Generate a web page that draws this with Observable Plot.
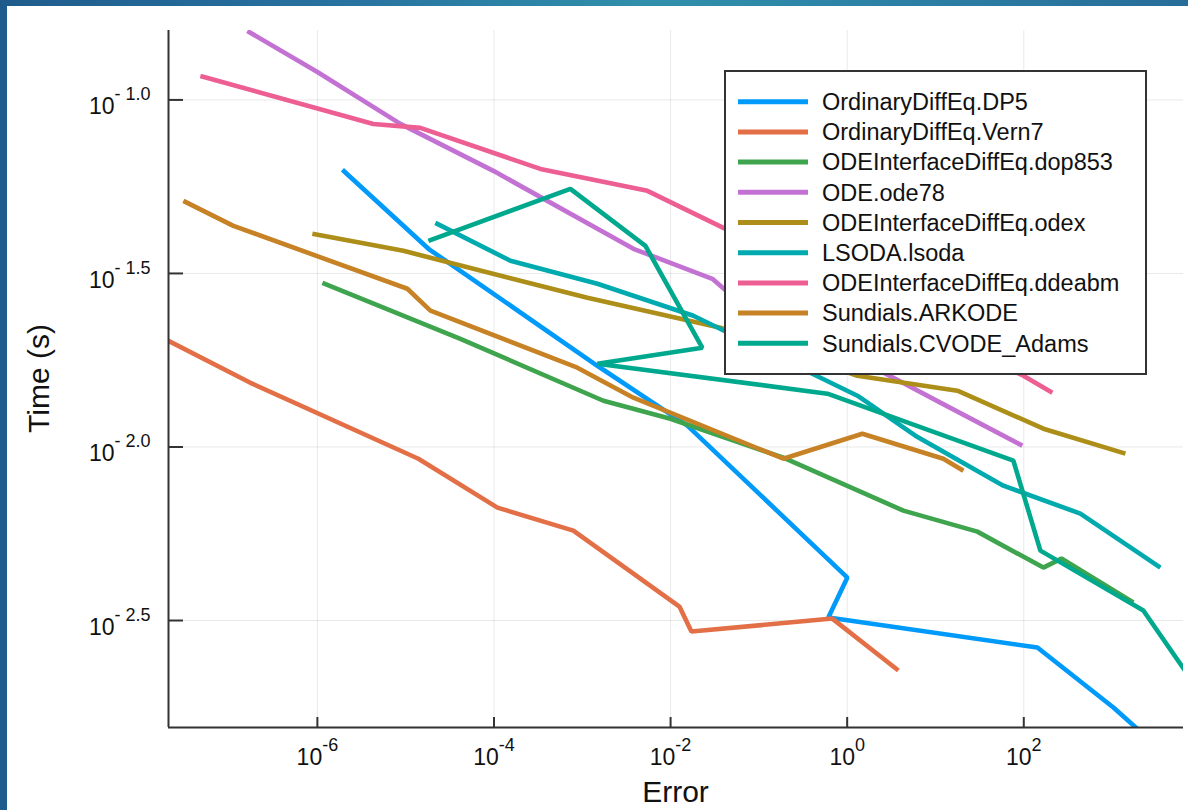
<!DOCTYPE html>
<html><head><meta charset="utf-8">
<script src="https://cdn.jsdelivr.net/npm/d3@7"></script>
<script src="https://cdn.jsdelivr.net/npm/@observablehq/plot@0.6"></script>
<style>
html,body{margin:0;padding:0;}
body{width:1188px;height:810px;position:relative;overflow:hidden;
  background:linear-gradient(90deg,#1f5c8c 0%,#2873a0 30%,#3090ab 55%,#2c80a5 75%,#276d99 100%);
  font-family:"Liberation Sans",Arial,sans-serif;}
#paper{position:absolute;left:7px;top:6px;right:0;bottom:0;background:#fff;}
#chart{position:absolute;left:0;top:0;}
#legend{position:absolute;left:0;top:0;pointer-events:none;}
</style></head><body>
<div id="paper"></div>
<div id="chart"></div>
<svg id="legend" width="1188" height="810"></svg>
<script>
// ---- data ----
const seriesNames = ["OrdinaryDiffEq.DP5","OrdinaryDiffEq.Vern7","ODEInterfaceDiffEq.dop853","ODE.ode78","ODEInterfaceDiffEq.odex","LSODA.lsoda","ODEInterfaceDiffEq.ddeabm","Sundials.ARKODE","Sundials.CVODE_Adams"];
const seriesColors = ["#009AFA","#E36F47","#3EA44E","#C371D2","#AC8E18","#00AAAE","#ED5E93","#C68225","#00A98D"];

const dp5Error = [1.92e-6, 1.81e-5, 1.48e-3, 1.55e-2, 1.005, 0.612, 142.6, 1035, 2716];
const dp5Time  = [0.0629, 0.03724, 0.01714, 0.01152, 4.205e-3, 3.225e-3, 2.643e-3, 1.775e-3, 1.427e-3];

const vern7Error = [1.95e-8, 1.742e-7, 1.393e-5, 1.094e-4, 7.925e-4, 1.259e-2, 1.722e-2, 0.679, 3.80];
const vern7Time  = [0.02037, 0.01531, 9.25e-3, 6.687e-3, 5.741e-3, 3.47e-3, 2.94e-3, 3.203e-3, 2.269e-3];

const dop853Error = [1.14e-6, 4.164e-5, 1.734e-3, 9.95e-3, 0.1892, 4.325, 29.8, 166.7, 266.7, 1742];
const dop853Time  = [0.02972, 0.0205, 0.01359, 0.01206, 9.315e-3, 6.556e-3, 5.703e-3, 4.493e-3, 4.769e-3, 3.562e-3];

const ode78Error = [1.61e-7, 1.0e-6, 8.71e-6, 9.84e-5, 3.793e-3, 0.02972, 0.04519, 3.334, 11.35, 96.4];
const ode78Time  = [0.158, 0.1204, 0.08528, 0.06246, 0.03724, 0.03052, 0.02782, 0.01583, 0.01342, 0.01009];

const odexError = [8.77e-7, 9.42e-6, 1.143e-3, 0.03664, 1.306, 17.7, 166.7, 1416];
const odexTime  = [0.04113, 0.03674, 0.0269, 0.02206, 0.01604, 0.01453, 0.01129, 9.566e-3];

const lsodaError = [2.168e-5, 1.535e-4, 1.483e-3, 0.01811, 1.306, 5.916, 58.7, 437.5, 3524];
const lsodaTime  = [0.04424, 0.0344, 0.02953, 0.02388, 0.01405, 0.01078, 7.737e-3, 6.427e-3, 4.493e-3];

const ddeabmError = [4.73e-8, 4.305e-6, 1.466e-5, 3.35e-4, 5.458e-3, 0.04178, 98.9, 210.9];
const ddeabmTime  = [0.1172, 0.08528, 0.08306, 0.06327, 0.0547, 0.04252, 0.01604, 0.01433];

const arkodeError = [3.034e-8, 1.119e-7, 1.045e-5, 1.905e-5, 8.79e-4, 3.793e-3, 0.1892, 1.486, 12.27, 20.7];
const arkodeTime  = [0.05119, 0.04337, 0.02857, 0.0247, 0.01692, 0.01387, 9.25e-3, 0.01092, 9.25e-3, 8.546e-3];

const cvodeError = [1.807e-5, 7.328e-4, 5.188e-3, 0.02291, 1.483e-3, 0.597, 76.2, 154.2, 2259, 7311];
const cvodeTime  = [0.03926, 0.05541, 0.03798, 0.01931, 0.01738, 0.01424, 9.134e-3, 5.028e-3, 3.379e-3, 2.195e-3];

const xDomain = [2.06e-8, 6440];
const yDomain = [1.555e-3, 0.1585];
const xTicks = [1e-6, 1e-4, 1e-2, 1, 1e2];
const xTickExp = ["-6", "-4", "-2", "0", "2"];
const yTicks = [0.1, 0.0316228, 0.01, 0.00316228];
const yTickExp = ["-1.0", "-1.5", "-2.0", "-2.5"];
const xTitle = "Error";
const yTitle = "Time (s)";

// ---- table ----
const seriesErrors = [dp5Error, vern7Error, dop853Error, ode78Error, odexError, lsodaError, ddeabmError, arkodeError, cvodeError];
const seriesTimes  = [dp5Time, vern7Time, dop853Time, ode78Time, odexTime, lsodaTime, ddeabmTime, arkodeTime, cvodeTime];
const rows = [];
seriesNames.forEach((name, s) => {
  seriesErrors[s].forEach((e, i) => rows.push({series: name, error: e, time: seriesTimes[s][i]}));
});

const FONT = "Liberation Sans, Arial, Helvetica, sans-serif";
const AXC = "#333";

const chart = Plot.plot({
  width: 1188, height: 810,
  marginLeft: 168, marginRight: 5, marginTop: 30, marginBottom: 83,
  style: {background: "transparent", fontFamily: FONT, overflow: "visible", color: "#111"},
  x: {type: "log", domain: xDomain, label: null},
  y: {type: "log", domain: yDomain, label: null},
  color: {domain: seriesNames, range: seriesColors},
  marks: [
    Plot.gridX(xTicks, {stroke: "#000", strokeOpacity: 0.09, strokeWidth: 1}),
    Plot.gridY(yTicks, {stroke: "#000", strokeOpacity: 0.09, strokeWidth: 1}),
    Plot.line(rows, {x: "error", y: "time", z: "series", stroke: "series", strokeWidth: 4.6,
      strokeLinejoin: "miter", strokeLinecap: "butt", clip: true}),
    Plot.ruleX([xDomain[0]], {stroke: AXC, strokeWidth: 2}),
    Plot.ruleY([yDomain[0]], {stroke: AXC, strokeWidth: 2}),
    Plot.axisY(yTicks, {tickSize: -15, tickFormat: () => "", stroke: AXC, strokeWidth: 2, label: null}),
    Plot.axisY(yTicks, {tickSize: 0, tickPadding: 18, dy: 7, fontSize: 23, label: null,
      tickFormat: d => yTickExp[yTicks.indexOf(d)]}),
    Plot.axisX(xTicks, {tickSize: -10, tickFormat: () => "", stroke: AXC, strokeWidth: 2, label: null}),
    Plot.axisX(xTicks, {tickSize: 0, tickPadding: 21, fontSize: 23, label: null,
      tickFormat: d => xTickExp[xTicks.indexOf(d)]})
  ]
});
document.getElementById("chart").appendChild(chart);

// superscript exponents on tick labels
const sel = d3.select(chart);
function supify(selector, isY) {
  sel.selectAll(selector).each(function() {
    const exp = this.textContent;
    if (!exp) return;
    const t = d3.select(this);
    t.text(null);
    t.append("tspan").text("10");
    t.append("tspan").attr("font-size", 18).attr("dy", -14).text(isY ? exp.replace("-", "- ") : exp);
  });
}
supify('g[aria-label="y-axis tick label"] text', true);
supify('g[aria-label="x-axis tick label"] text', false);

// axis titles
sel.append("text").attr("x", 675.5).attr("y", 802).attr("text-anchor", "middle")
  .attr("font-size", 30).attr("fill", "#111").style("font-family", FONT).text(xTitle);
sel.append("text").attr("transform", "translate(49,378.5) rotate(-90)").attr("text-anchor", "middle")
  .attr("font-size", 30).attr("fill", "#111").style("font-family", FONT).text(yTitle);

// legend
const lg = d3.select("#legend");
lg.append("rect").attr("x", 725).attr("y", 71).attr("width", 421).attr("height", 303)
  .attr("fill", "#fff").attr("stroke", "#333").attr("stroke-width", 2);
seriesNames.forEach((name, i) => {
  const yy = 101.7 + 30.2 * i;
  lg.append("line").attr("x1", 738).attr("x2", 808).attr("y1", yy).attr("y2", yy)
    .attr("stroke", seriesColors[i]).attr("stroke-width", 5);
  lg.append("text").attr("x", 822).attr("y", yy + 8.3).attr("font-size", 23.5)
    .attr("fill", "#111").style("font-family", FONT).text(name);
});
</script>
</body></html>
